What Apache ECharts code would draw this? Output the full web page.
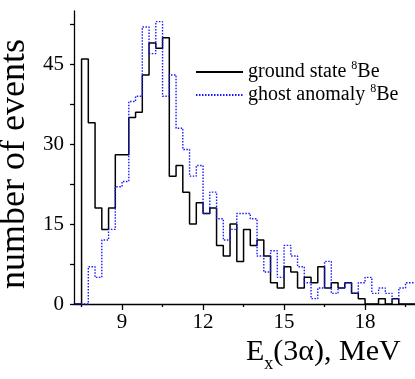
<!DOCTYPE html>
<html><head><meta charset="utf-8">
<script src="https://cdn.jsdelivr.net/npm/echarts@6/dist/echarts.min.js"></script>
<style>html,body{margin:0;padding:0;background:#fff}#c{width:415px;height:379px}</style>
</head><body><div id="c"></div>
<script>
const binStart = 7.25;
const binWidth = 0.25;
const groundState = [0, 46, 34, 18, 14, 18, 28, 28, 35, 36, 43, 49, 48, 50, 24, 26, 21, 15, 19, 17, 18, 11, 9, 15, 8, 14, 11, 12, 9, 4, 3, 7, 6, 3, 5, 4, 7, 3, 4, 3, 4, 2, 1, 0, 0, 1, 0, 1, 0, 0, 0];
const ghostAnomaly = [0, 0, 7, 5, 12, 14, 22, 23, 38, 39, 52, 47, 53, 39, 43, 33, 29, 24, 26, 17, 21, 16, 12, 14, 17, 17, 16, 9, 6, 10, 5, 11, 9, 7, 4, 1, 3, 8, 2, 3, 4, 2, 4, 5, 2, 3, 2, 1, 3, 4, 4];
const xMajorTicks = [9, 12, 15, 18];
const xMinorTicks = [7.5, 10.5, 13.5, 16.5, 19.5];
const yLabelValues = [0, 15, 30, 45];
const yTickValues = [0, 7.5, 15, 22.5, 30, 37.5, 45, 52.5];
const seriesNames = ['ground state', 'ghost anomaly'];

function toSteps(values) {
  const pts = values.map((v, i) => [binStart + i * binWidth, v]);
  pts.push([binStart + values.length * binWidth, values[values.length - 1]]);
  return pts;
}

const FONT = '"Liberation Serif", "Times New Roman", serif';
const chart = echarts.init(document.getElementById('c'), null, {renderer: 'canvas'});
const xMin = 7.22, xMax = 19.85;
chart.setOption({
  animation: false,
  backgroundColor: '#fff',
  grid: {left: 74, right: 0, top: 11, bottom: 75, containLabel: false, outerBoundsMode: 'none'},
  title: {
    text: '{a|E}{s|x}{a|(3α), MeV}',
    left: 246, top: 331, padding: 0,
    textStyle: {
      fontWeight: 'normal',
      rich: {
        a: {fontFamily: FONT, fontSize: 30, fontWeight: 'normal', lineHeight: 42, color: '#000'},
        s: {fontFamily: FONT, fontSize: 18, fontWeight: 'normal', lineHeight: 2, verticalAlign: 'bottom', color: '#000'}
      }
    }
  },
  legend: {
    orient: 'vertical', left: 190, top: 55,
    itemWidth: 47, itemHeight: 12, itemGap: 1,
    data: seriesNames,
    itemStyle: {opacity: 0},
    formatter: function (n) { return '{a|' + n + ' }{s|8}{a|Be}'; },
    textStyle: {
      rich: {
        a: {fontFamily: FONT, fontSize: 20, lineHeight: 24, color: '#000'},
        s: {fontFamily: FONT, fontSize: 12, lineHeight: 4, verticalAlign: 'top', color: '#000'}
      }
    }
  },
  xAxis: [{
    type: 'value', min: xMin, max: xMax, position: 'bottom',
    axisLine: {show: true, onZero: false, lineStyle: {color: '#000', width: 1.3}},
    axisTick: {show: true, inside: false, length: 6, customValues: xMajorTicks, lineStyle: {color: '#000', width: 1.3}},
    axisLabel: {show: true, customValues: xMajorTicks, margin: 8, fontFamily: FONT, fontSize: 21, color: '#000'},
    splitLine: {show: false}
  }, {
    type: 'value', min: xMin, max: xMax, position: 'bottom', gridIndex: 0,
    axisLine: {show: false},
    axisTick: {show: true, inside: false, length: 3, customValues: xMinorTicks, lineStyle: {color: '#000', width: 1.3}},
    axisLabel: {show: false},
    splitLine: {show: false}
  }],
  yAxis: {
    type: 'value', min: 0, max: 55,
    axisLine: {show: true, onZero: false, lineStyle: {color: '#000', width: 1.3}},
    axisTick: {show: true, inside: false, length: 4, customValues: yTickValues, lineStyle: {color: '#000', width: 1.3}},
    axisLabel: {show: true, customValues: yLabelValues, margin: 10, fontFamily: FONT, fontSize: 21, color: '#000'},
    splitLine: {show: false},
    name: 'number of events', nameLocation: 'middle', nameRotate: 90, nameGap: 33,
    nameTextStyle: {fontFamily: FONT, fontSize: 36, color: '#000', padding: [0, 13, 0, 0]}
  },
  series: [{
    name: seriesNames[0], type: 'line', step: 'end', xAxisIndex: 0,
    data: toSteps(groundState), symbol: 'none',
    lineStyle: {color: '#000', width: 1.5},
    itemStyle: {color: 'rgba(0,0,0,0)'}
  }, {
    name: seriesNames[1], type: 'line', step: 'end', xAxisIndex: 0,
    data: toSteps(ghostAnomaly), symbol: 'none',
    lineStyle: {color: '#1a1aff', width: 1.4, type: [1.5, 1.5]},
    itemStyle: {color: 'rgba(0,0,0,0)'}
  }]
});
</script></body></html>
